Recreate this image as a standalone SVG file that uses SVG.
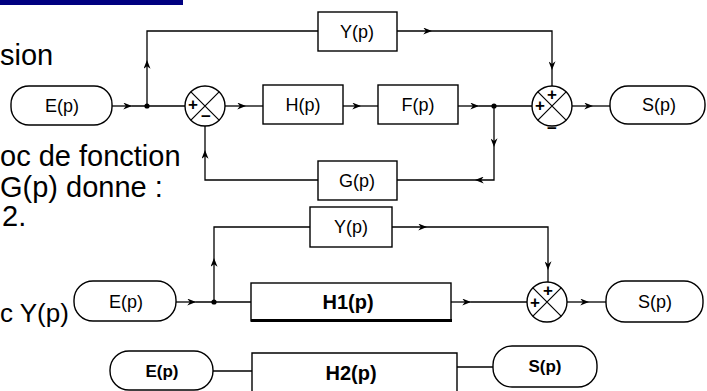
<svg xmlns="http://www.w3.org/2000/svg" width="707" height="391" viewBox="0 0 707 391">
<style>
.t{font-family:"Liberation Sans",Arial,sans-serif;font-size:29px;fill:#000}
.l{font-family:"Liberation Sans",Arial,sans-serif;font-size:18px;fill:#000;text-anchor:middle}
.lb{font-family:"Liberation Sans",Arial,sans-serif;font-size:17px;font-weight:bold;fill:#000;text-anchor:middle}
.hb{font-family:"Liberation Sans",Arial,sans-serif;font-size:20px;font-weight:bold;fill:#000;text-anchor:middle}
.s{font-family:"Liberation Sans",Arial,sans-serif;font-size:17px;font-weight:bold;fill:#000;text-anchor:middle}
.box{fill:#fff;stroke:#000;stroke-width:1.4}
.sum{fill:#fff;stroke:#000;stroke-width:1.4}
.x{stroke:#000;stroke-width:1.2}
.c path{fill:none;stroke:#000;stroke-width:1.3}
</style>
<defs>
<marker id="a" viewBox="0 0 10 8" refX="10" refY="4" markerWidth="9" markerHeight="7" markerUnits="userSpaceOnUse" orient="auto">
<path d="M0,0 L10,4 L0,8 L3,4 z" fill="#000"/>
</marker>
</defs>
<rect x="0" y="0" width="183" height="5" fill="#000080"/>
<text class="t" x="0" y="65">sion</text>
<text class="t" x="0" y="166">oc de fonction</text>
<text class="t" x="0" y="197">G(p) donne :</text>
<text class="t" x="2" y="226">2.</text>
<text class="t" x="0" y="322" style="font-size:26px">c Y(p)</text>

<g class="c" id="connectors">
<path d="M112,106 H132" marker-end="url(#a)"/><path d="M132,106 H185"/>
<path d="M147,106 V60" marker-end="url(#a)"/><path d="M147,60 V31 H318"/>
<path d="M397,31 H432" marker-end="url(#a)"/><path d="M432,31 H552 V70" marker-end="url(#a)"/><path d="M552,70 V86"/>
<path d="M225,106 H246" marker-end="url(#a)"/><path d="M246,106 H263"/>
<path d="M343,106 H361" marker-end="url(#a)"/><path d="M361,106 H378"/>
<path d="M458,106 H479" marker-end="url(#a)"/><path d="M479,106 H532"/>
<path d="M494,106 V147" marker-end="url(#a)"/><path d="M494,147 V180 H475" marker-end="url(#a)"/><path d="M475,180 H397"/>
<path d="M318,180 H205 V150" marker-end="url(#a)"/><path d="M205,150 V126"/>
<path d="M572,106 H593" marker-end="url(#a)"/><path d="M593,106 H610"/>
<path d="M176,302 H196" marker-end="url(#a)"/><path d="M196,302 H251"/>
<path d="M214,302 V258" marker-end="url(#a)"/><path d="M214,258 V227 H310"/>
<path d="M392,227 H427" marker-end="url(#a)"/><path d="M427,227 H548 V270" marker-end="url(#a)"/><path d="M548,270 V282"/>
<path d="M451,302 H471" marker-end="url(#a)"/><path d="M471,302 H527"/>
<path d="M567,302 H589" marker-end="url(#a)"/><path d="M589,302 H606"/>
<path d="M213,371 H252"/><path d="M457,367 H493"/>
<circle cx="147" cy="106" r="2.6" fill="#000"/>
<circle cx="494" cy="106" r="2.6" fill="#000"/>
<circle cx="214" cy="302" r="2.6" fill="#000"/>
</g>

<g id="E1"><rect class="box" x="11" y="86" width="101" height="39" rx="18"/><text class="l" x="62" y="112">E(p)</text></g>
<g id="Y1"><rect class="box" x="318" y="12" width="79" height="39"/><text class="l" x="357" y="38">Y(p)</text></g>
<g id="H"><rect class="box" x="263" y="85" width="80" height="39"/><text class="l" x="303" y="111">H(p)</text></g>
<g id="F"><rect class="box" x="378" y="85" width="80" height="39"/><text class="l" x="418" y="111">F(p)</text></g>
<g id="G"><rect class="box" x="318" y="161" width="79" height="39"/><text class="l" x="357" y="187">G(p)</text></g>
<g id="S1"><rect class="box" x="610" y="86" width="95" height="38" rx="18"/><text class="l" x="659" y="111">S(p)</text></g>
<g id="sum1"><circle class="sum" cx="205" cy="106" r="20"/><path class="x" d="M190.9,91.9 L219.1,120.1 M219.1,91.9 L190.9,120.1"/><text class="s" x="193" y="110">+</text><text class="s" x="206" y="122">−</text></g>
<g id="sum2"><circle class="sum" cx="552" cy="106" r="20"/><path class="x" d="M537.9,91.9 L566.1,120.1 M566.1,91.9 L537.9,120.1"/><text class="s" x="552" y="100">+</text><text class="s" x="540" y="111">+</text><text class="s" x="552" y="134">−</text></g>

<g id="E2"><rect class="box" x="74" y="281" width="102" height="40" rx="19"/><text class="l" x="126" y="308">E(p)</text></g>
<g id="Y2"><rect class="box" x="310" y="207" width="82" height="40"/><text class="l" x="351" y="233">Y(p)</text></g>
<g id="H1"><rect class="box" x="251" y="283" width="200" height="38"/><line x1="251" y1="320.5" x2="452" y2="320.5" stroke="#000" stroke-width="3"/><text class="hb" x="348" y="309">H1(p)</text></g>
<g id="sum3"><circle class="sum" cx="547" cy="302" r="20"/><path class="x" d="M532.9,287.9 L561.1,316.1 M561.1,287.9 L532.9,316.1"/><text class="s" x="548" y="296">+</text><text class="s" x="535" y="308">+</text></g>
<g id="S2"><rect class="box" x="606" y="281" width="97" height="41" rx="19"/><text class="l" x="655" y="308">S(p)</text></g>

<g id="E3"><rect class="box" x="110" y="351" width="103" height="39" rx="19"/><text class="lb" x="162" y="377">E(p)</text></g>
<g id="H2"><path class="box" d="M252,395 V353 H457 V395" fill="none"/><text class="hb" x="351" y="380">H2(p)</text></g>
<g id="S3"><rect class="box" x="493" y="346" width="104" height="41" rx="19"/><text class="lb" x="545" y="372">S(p)</text></g>
</svg>
